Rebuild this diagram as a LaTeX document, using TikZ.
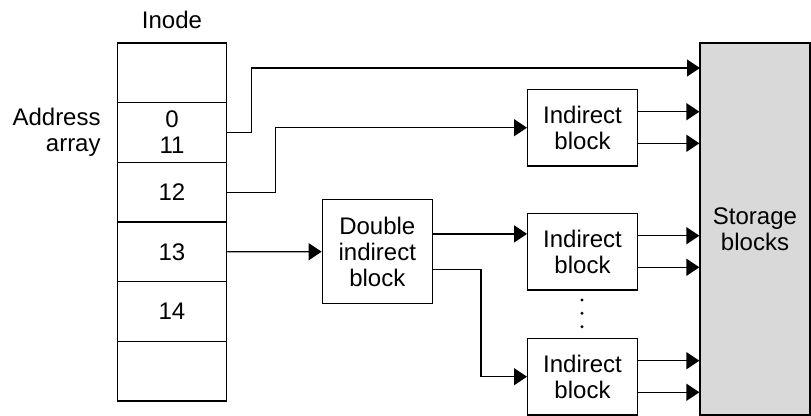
\documentclass[tikz,border=0pt]{standalone}
\usepackage{fontspec}
\setmainfont{Liberation Sans}
\usetikzlibrary{arrows.meta}
\definecolor{storegray}{gray}{0.85}

\begin{document}
\begin{tikzpicture}[x=0.5pt,y=-0.5pt,
    every node/.style={font=\fontsize{12pt}{13pt}\selectfont},
    cell/.style={draw,line width=0.65pt,minimum width=54.6pt,minimum height=29.85pt,inner sep=0pt,align=center},
    blk/.style={draw,line width=0.65pt,minimum width=54.8pt,minimum height=38.3pt,inner sep=0pt,align=center},
    arr/.style={line width=0.65pt,-{Triangle[length=6.5pt,width=8.5pt]}}]
  \useasboundingbox (0,0) rectangle (811,416);

  % inode
  \node (inode) at (172,20) {Inode};
  \node[cell] (r0) at (172,72.8) {};
  \node[cell] (r1) at (172,132.5) {0\\11};
  \node[cell] (r2) at (172,192.2) {12};
  \node[cell] (r3) at (172,251.8) {13};
  \node[cell] (r4) at (172,311.5) {14};
  \node[cell] (r5) at (172,371.2) {};
  \node[anchor=east,align=right,inner sep=0pt] (addr) at (101,132.5) {Address\\array};

  % blocks
  \node[cell,minimum width=55pt,minimum height=52pt] (dbl) at (377.3,251.7) {Double\\indirect\\block};
  \node[blk] (ind1) at (582.5,127.7) {Indirect\\block};
  \node[blk] (ind2) at (582.5,251.7) {Indirect\\block};
  \node[blk] (ind3) at (582.5,376.7) {Indirect\\block};
  \node[draw,line width=0.65pt,fill=storegray,minimum width=55pt,minimum height=186pt,align=center] (store) at (755,229) {Storage\\blocks};
  \foreach \y in {300,313.3,326.7}
    \fill (582,\y) circle (0.8pt);

  % pointers
  \coordinate (direct) at (700,68);
  \draw[arr] (r1.east) -- ++(24,0) |- (direct);
  \draw[arr] (r2.east) -- ++(48,0) |- (ind1.west);
  \draw[arr] (r3.east) -- (dbl.west);
  \coordinate (d1) at ([yshift=8.9pt]dbl.east);
  \coordinate (d2) at ([yshift=-9pt]dbl.east);
  \draw[arr] (d1) -- (d1 -| ind2.west);
  \draw[arr] (d2) -- ++(48,0) |- (ind3.west);
  \foreach \b in {ind1,ind2,ind3}{
    \coordinate (\b-hi) at ([yshift=8pt]\b.east);
    \coordinate (\b-lo) at ([yshift=-7.8pt]\b.east);
    \draw[arr] (\b-hi) -- (\b-hi -| store.west);
    \draw[arr] (\b-lo) -- (\b-lo -| store.west);
  }
\end{tikzpicture}
\end{document}
